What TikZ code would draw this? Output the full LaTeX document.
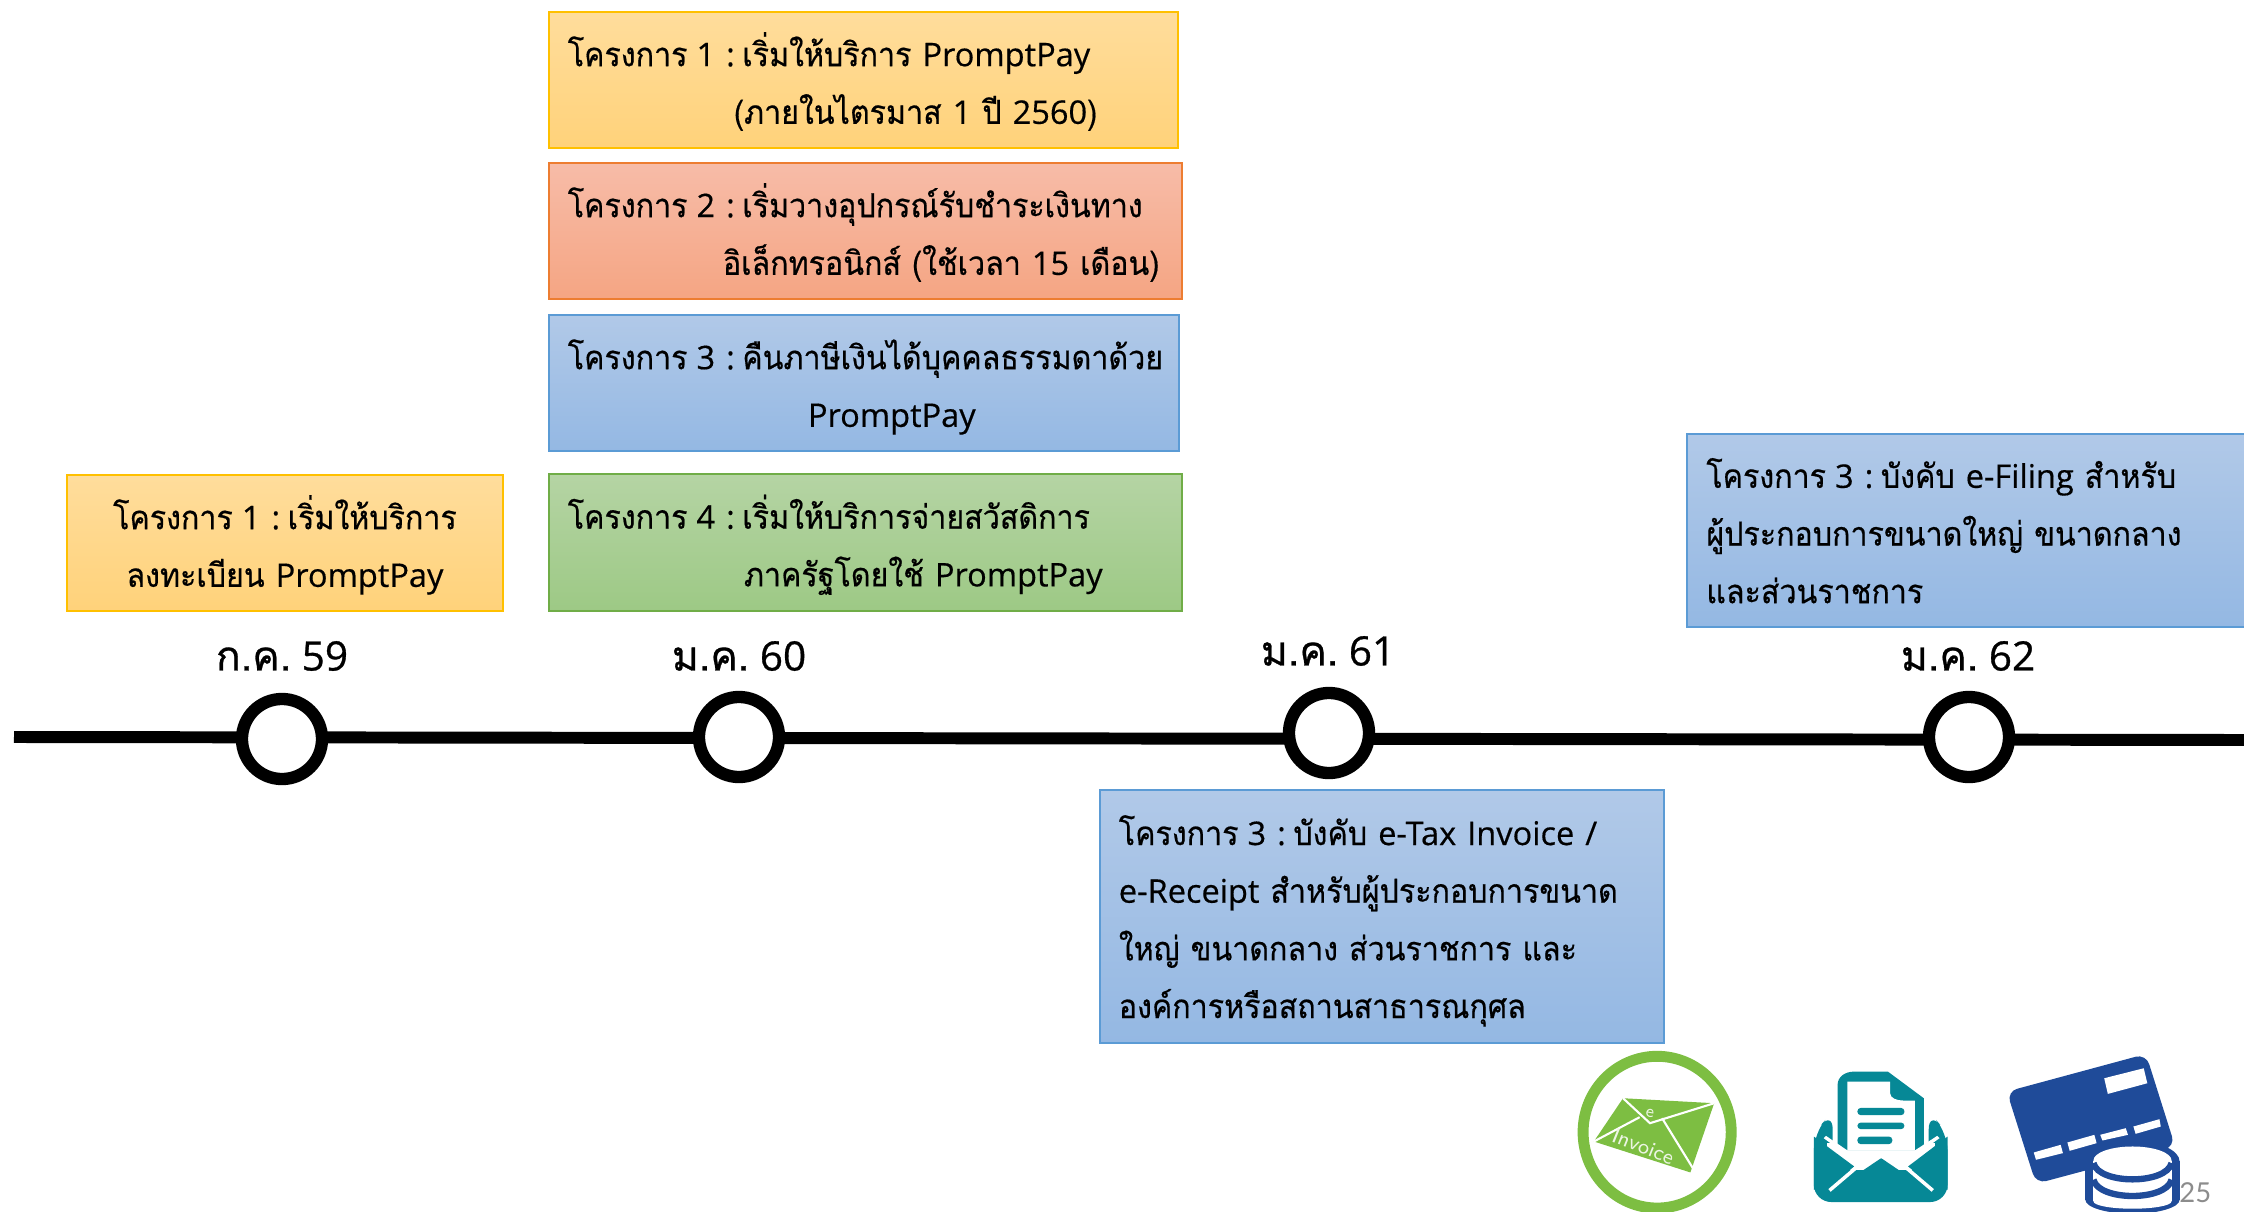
\documentclass[tikz,border=0pt]{standalone}
\usepackage{fontspec}
\newfontfamily\thaifont[Script=Thai,FakeStretch=0.92,FakeBold=0.5]{Loma}
\newfontfamily\datethai[Script=Thai,FakeBold=0.7]{Loma}
\newfontfamily\latfont[FakeBold=0.45,Scale=0.985]{Open Sans}
\newfontfamily\datelat[FakeBold=0.7,Scale=0.985]{Open Sans}
\newfontfamily\pagenumfont{Lato}
\newcommand{\boxfont}{\thaifont\fontsize{9.4pt}{16.4pt}\selectfont}
\newcommand{\datefont}{\datethai\fontsize{11.7pt}{14pt}\selectfont}
\newcommand{\tl}[1]{\raisebox{-0.15cm}[0pt][0pt]{#1}}
\newcommand{\lat}[1]{{\latfont #1}}
\newcommand{\pre}[1]{{\latfont\hspace{-0.02cm}\ #1\ :\hspace{-0.09cm} }}
\definecolor{yb}{HTML}{FFC000}\definecolor{yt}{HTML}{FFDD9C}\definecolor{ym}{HTML}{FFD27A}
\definecolor{rb}{HTML}{ED7D31}\definecolor{rt}{HTML}{F7BCA8}\definecolor{rm}{HTML}{F5A583}
\definecolor{bb}{HTML}{5B9BD5}\definecolor{bt}{HTML}{B1C9E8}\definecolor{bm}{HTML}{94B8E3}
\definecolor{gb}{HTML}{70AD47}\definecolor{gt}{HTML}{B5D4A4}\definecolor{gm}{HTML}{9DC985}
\definecolor{leaf}{HTML}{7DBE42}\definecolor{teal}{HTML}{068896}\definecolor{navy}{HTML}{1F4B99}
\tikzset{
  x=0.01cm,y=-0.01cm,
  panel/.style={rectangle,draw,line width=0.5pt,inner ysep=0pt,inner xsep=0.19cm,font=\boxfont,text=black,align=left},
  ypanel/.style={panel,draw=yb,top color=yt,bottom color=ym},
  rpanel/.style={panel,draw=rb,top color=rt,bottom color=rm},
  bpanel/.style={panel,draw=bb,top color=bt,bottom color=bm},
  gpanel/.style={panel,draw=gb,top color=gt,bottom color=gm},
  ring/.style={circle,draw=black,fill=white,line width=3.5pt,minimum size=0.80cm,inner sep=0pt},
  datelabel/.style={font=\datefont,text=black,inner sep=0pt},
  axis/.style={line width=3.4pt,draw=black},
  hair/.style={draw=white,line width=0.6pt},
}
\begin{document}
\begin{tikzpicture}
\useasboundingbox (0,0) rectangle (2244,1212);
% panels
\node[ypanel,minimum width=6.29cm,minimum height=1.36cm,text width=5.91cm] (p1) at (863.5,80)
 {\tl{โครงการ\pre{1}เริ่มให้บริการ \lat{PromptPay}}\\\tl{\hspace*{1.66cm}(ภายในไตรมาส\lat{ 1 }ปี\lat{ 2560})}};
\node[rpanel,minimum width=6.33cm,minimum height=1.36cm,text width=5.95cm] (p2) at (865.5,231)
 {\tl{โครงการ\pre{2}เริ่มวางอุปกรณ์รับชำระเงินทาง}\\\tl{\hspace*{1.55cm}อิเล็กทรอนิกส์ (ใช้เวลา\lat{ 15 }เดือน)}};
\node[bpanel,minimum width=6.30cm,minimum height=1.36cm,text width=5.92cm] (p3) at (864,383)
 {\tl{โครงการ\pre{3}คืนภาษีเงินได้บุคคลธรรมดาด้วย}\\\tl{\hspace*{2.4cm}\lat{PromptPay}}};
\node[gpanel,minimum width=6.33cm,minimum height=1.37cm,text width=5.95cm] (p4) at (865.5,542.5)
 {\tl{โครงการ\pre{4}เริ่มให้บริการจ่ายสวัสดิการ}\\\tl{\hspace*{1.76cm}ภาครัฐโดยใช้ \lat{PromptPay}}};
\node[ypanel,minimum width=4.36cm,minimum height=1.36cm,text width=3.98cm,align=center] (p0) at (285,543)
 {\tl{โครงการ\pre{1}เริ่มให้บริการ}\\\tl{ลงทะเบียน \lat{PromptPay}}};
\node[bpanel,minimum width=5.6cm,minimum height=1.93cm,text width=5.22cm] (p5) at (1967.5,530.5)
 {\tl{โครงการ\pre{3}บังคับ \lat{e-Filing} สำหรับ}\\\tl{ผู้ประกอบการขนาดใหญ่ ขนาดกลาง}\\\tl{และส่วนราชการ}};
\node[bpanel,minimum width=5.64cm,minimum height=2.53cm,text width=5.26cm] (p6) at (1382,916.5)
 {\tl{โครงการ\pre{3}บังคับ \lat{e-Tax Invoice /}}\\\tl{\lat{e-Receipt} สำหรับผู้ประกอบการขนาด}\\\tl{ใหญ่ ขนาดกลาง ส่วนราชการ และ}\\\tl{องค์การหรือสถานสาธารณกุศล}};
% timeline
\coordinate (start) at (14,737);
\coordinate (finish) at (2244,740);
\draw[axis] (start) -- (finish);
\node[ring] (c1) at (282,739) {};
\node[ring] (c2) at (739,737) {};
\node[ring] (c3) at (1329,733) {};
\node[ring] (c4) at (1969,737) {};
\node[datelabel] (d1) at (282,656) {ก.ค.{\datelat\ 59}};
\node[datelabel] (d2) at (739,656) {ม.ค.{\datelat\ 60}};
\node[datelabel] (d3) at (1328,651) {ม.ค.{\datelat\ 61}};
\node[datelabel] (d4) at (1968,656) {ม.ค.{\datelat\ 62}};
% icons, typed in the coordinates of the zoomed crop
\begin{scope}[shift={(1540,1030)},x=0.00449cm,y=-0.00333cm]
 % e-invoice
 \draw[leaf,line width=3.1pt] (261,307) ellipse [x radius=165,y radius=228];
 \fill[leaf] (185,205) -- (388,220) -- (335,428) -- (120,335) -- cycle;
 \draw[hair] (185,205) -- (245,280) -- (388,220);
 \draw[hair] (120,335) -- (222,262);
 \draw[hair] (272,265) -- (345,425);
 \node[text=white!85!leaf,font=\fontsize{5pt}{6pt}\sffamily,rotate=-10,inner sep=0pt] (ie) at (245,250) {e};
 \node[text=white!85!leaf,font=\fontsize{6pt}{7pt}\sffamily,rotate=-22,inner sep=0pt] (iv) at (230,350) {Invoice};
 % open envelope with document
 \fill[teal,rounded corners=5pt] (652,245) -- (610,310) -- (610,517) -- (908,517) -- (908,310) -- (866,245) -- (866,400) -- (652,400) -- cycle;
 \fill[white] (640,340) rectangle (880,420);
 \fill[teal] (610,320) -- (700,410) -- (645,470) -- (610,480) -- cycle;
 \fill[teal] (908,320) -- (820,410) -- (875,470) -- (908,480) -- cycle;
 \fill[teal] (760,385) -- (875,490) -- (645,490) -- cycle;
 \fill[teal] (663,350) -- (663,165) .. controls (663,140) and (680,125) .. (700,125) -- (775,125) -- (855,205) -- (855,350) -- (835,362) -- (685,362) -- cycle;
 \fill[white] (685,362) -- (685,155) -- (780,155) -- (780,190) .. controls (780,205) and (795,212) .. (810,212) -- (835,212) -- (835,362) -- cycle;
 \fill[white] (632,325) -- (637,318) -- (685,362) -- (835,362) -- (885,318) -- (890,325) -- (808,405) -- (760,385) -- (712,405) -- cycle;
 \draw[white,line width=1pt] (712,405) -- (645,482);
 \draw[white,line width=1pt] (808,405) -- (875,482);
 \fill[teal,rounded corners=1pt] (707,234) rectangle (812,256);
 \fill[teal,rounded corners=1pt] (707,278) rectangle (812,298);
 \fill[teal,rounded corners=1pt] (707,320) rectangle (785,343);
 % card and coins
 \fill[navy,rounded corners=3pt] (1040,185) -- (1350,72) -- (1415,350) -- (1105,462) -- cycle;
 \fill[white] (1257,145) -- (1345,115) -- (1353,160) -- (1265,192) -- cycle;
 \fill[white] (1100,368) -- (1160,345) -- (1165,370) -- (1105,390) -- cycle;
 \fill[white] (1175,338) -- (1235,315) -- (1240,340) -- (1180,363) -- cycle;
 \fill[white] (1248,315) -- (1305,295) -- (1310,315) -- (1253,332) -- cycle;
 \fill[white] (1322,290) -- (1380,268) -- (1383,290) -- (1327,312) -- cycle;
 \fill[navy] (1320,395) ellipse [x radius=105,y radius=62];
 \fill[navy] (1215,395) rectangle (1425,510);
 \fill[navy] (1320,510) ellipse [x radius=105,y radius=42];
 \fill[white] (1233,395) rectangle (1407,515);
 \fill[white] (1320,515) ellipse [x radius=87,y radius=22];
 \fill[white] (1320,392) ellipse [x radius=87,y radius=42];
 \draw[navy,line width=1.8pt] (1233,400) .. controls (1245,465) and (1395,465) .. (1407,400);
 \draw[navy,line width=1.8pt] (1233,450) .. controls (1245,515) and (1395,515) .. (1407,450);
 \node[text={rgb,255:red,140;green,140;blue,140},font=\pagenumfont\fontsize{7.8pt}{9pt}\selectfont,inner sep=0pt] (pg) at (1460,490) {25};
\end{scope}
\end{tikzpicture}
\end{document}
